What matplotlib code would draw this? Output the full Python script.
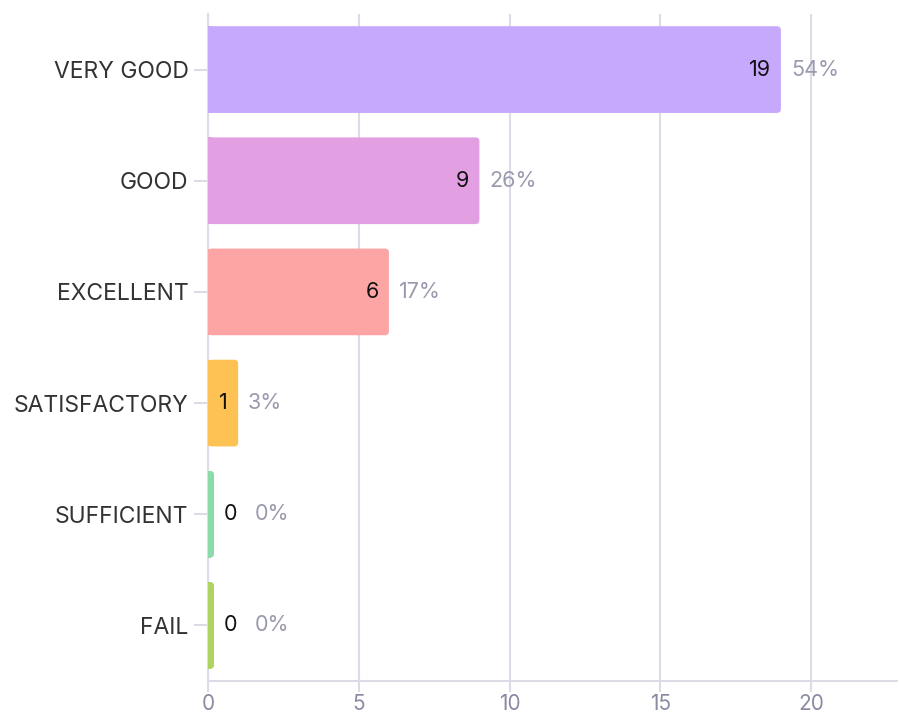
import matplotlib
matplotlib.use("Agg")
import matplotlib.pyplot as plt
from matplotlib.patches import FancyBboxPatch, Rectangle

categories = ["VERY GOOD", "GOOD", "EXCELLENT", "SATISFACTORY", "SUFFICIENT", "FAIL"]
counts = [19, 9, 6, 1, 0, 0]
percents = ["54%", "26%", "17%", "3%", "0%", "0%"]
colors = ["#c6a8fd", "#e29fe2", "#fca5a4", "#fec153", "#8cd9a9", "#afd360"]
xticks = [0, 5, 10, 15, 20]

plt.rcParams['font.family'] = ['Inter', 'DejaVu Sans']

fig = plt.figure(figsize=(8.99, 7.17), dpi=100)
ax = fig.add_axes([208/899, 1-681/717, (897-208)/899, (681-14)/717])
xmax = 22.85
ax.set_xlim(0, xmax)
ax.set_ylim(len(categories)-0.5, -0.5)

px_x = (897-208)/xmax        # px per x unit
px_y = (681-14)/len(categories)  # px per y unit
bh = 0.78
r_px = 4
rx = r_px/px_x
aspect = px_x/px_y
min_w = 6/px_x
fs = 15.5

for i, (c, v, col) in enumerate(zip(categories, counts, colors)):
    w = max(v, min_w)
    y0 = i - bh/2
    patch = FancyBboxPatch((0, y0), w, bh,
                           boxstyle=f"round,pad=0,rounding_size={rx}",
                           mutation_aspect=aspect,
                           fc=col, ec="none", zorder=3)
    ax.add_patch(patch)
    ax.add_patch(Rectangle((0, y0), min(rx, w/2), bh, fc=col, ec="none", zorder=3))
    off = 10/px_x
    if v > 0:
        ax.text(v - off, i, str(v), ha="right", va="center", fontsize=fs,
                color="#111111", zorder=4)
        ax.text(v + off, i, percents[i], ha="left", va="center", fontsize=fs,
                color="#9a9aae", zorder=4)
    else:
        ax.text(w + off, i, str(v), ha="left", va="center", fontsize=fs,
                color="#111111", zorder=4)
        ax.text(w + off + 31/px_x, i, percents[i], ha="left", va="center",
                fontsize=fs, color="#9a9aae", zorder=4)

ax.set_yticks(range(len(categories)))
ax.set_yticklabels(categories, fontsize=16.5, color="#333333")
ax.set_xticks(xticks)
ax.set_xticklabels([str(t) for t in xticks], fontsize=15, color="#8a8aa3")
ax.tick_params(axis="y", length=10, width=1.5, color="#dcdce6", pad=4)
ax.tick_params(axis="x", length=8, width=1.5, color="#dcdce6", pad=1.5)
ax.grid(axis="x", color="#dcdce6", linewidth=1.5, zorder=1)
ax.set_axisbelow(True)
for s in ["top", "right"]:
    ax.spines[s].set_visible(False)
ax.spines["left"].set_color("#dcdce6")
ax.spines["left"].set_linewidth(1.5)
ax.spines["bottom"].set_color("#dcdce6")
ax.spines["bottom"].set_linewidth(1.5)

fig.savefig("out.png", dpi=100)
